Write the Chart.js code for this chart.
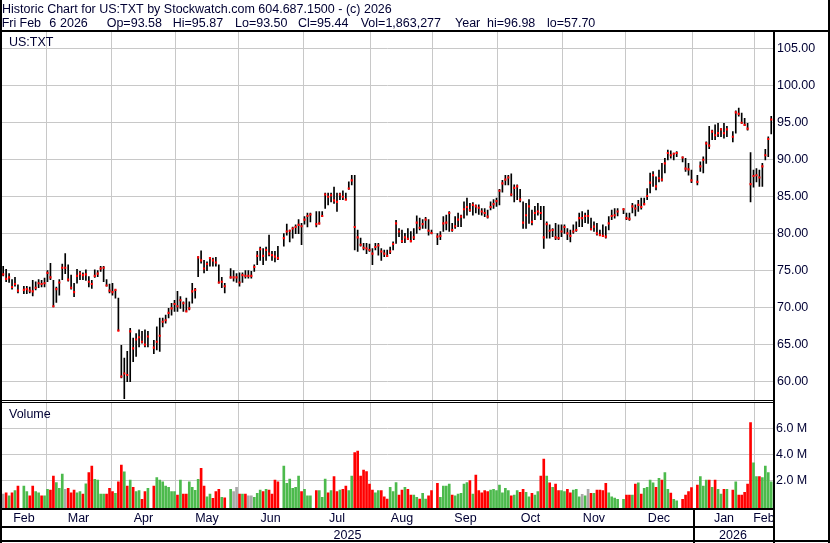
<!DOCTYPE html>
<html lang="en">
<head>
<meta charset="UTF-8">
<title>US:TXT Historic Chart</title>
<script src="https://cdn.jsdelivr.net/npm/chart.js"></script>
<style>
  html, body { margin: 0; padding: 0; background: #fff; }
</style>
</head>
<body>
<canvas id="chart" width="830" height="543"></canvas>
<script>
const titleLine = 'Historic Chart for US:TXT by Stockwatch.com 604.687.1500 - (c) 2026';
// second header line, as the fields appear left to right
const infoFields = ['Fri', 'Feb', '6', '2026', 'Op=93.58', 'Hi=95.87', 'Lo=93.50', 'Cl=95.44', 'Vol=1,863,277', 'Year', 'hi=96.98', 'lo=57.70'];
const symbol = 'US:TXT';

// one slot per weekday starting here (holidays are null)
const startDate = '2025-02-07';

const highs = [
  75.6, 75.2, 74.6, 73.8, 74.1, 73.1, null, 72.9, 72.9, 72.8,
  73.7, 73.5, 73.8, 73.7, 74.0, 75.0, 76.0, 73.7, 72.8, 73.8,
  75.9, 77.3, 75.8, 74.4, 73.3, 75.2, 74.9, 74.7, 75.1, 74.2,
  73.7, 75.1, 75.0, 75.6, 75.6, 73.8, 73.2, 73.3, 72.4, 71.3,
  64.9, 63.2, 64.1, 67.2, 65.9, 66.5, 67.0, 66.8, 67.0, 66.8,
  null, 65.6, 67.4, 68.6, 68.6, 69.0, 69.9, 70.6, 71.0, 72.2,
  71.5, 70.8, 71.3, 70.8, 73.3, 72.6, 76.9, 77.7, 76.4, 76.2,
  76.8, 76.7, 76.8, 75.8, 74.1, 73.3, null, 75.3, 75.0, 74.6,
  74.7, 74.7, 75.0, 75.0, 74.9, 75.8, 77.6, 78.2, 78.0, 78.2,
  79.8, 77.6, 77.6, 78.3, null, 80.0, 81.3, 80.5, 80.9, 81.2,
  81.9, 81.4, 82.3, 82.8, 82.8, null, 83.0, 83.0, 83.0, 85.5,
  85.5, 85.5, 86.3, 85.5, 85.5, 85.8, 85.5, 87.0, 87.9, 87.9,
  80.5, 79.4, 78.7, 78.7, 78.6, 78.0, 78.7, 78.7, 78.0, 77.8,
  77.8, 78.2, 78.9, 81.8, 80.7, 80.5, 80.05, 80.7, 80.3, 80.7,
  82.4, 82.1, 81.9, 82.2, 81.9, 80.5, null, 80.0, 80.3, 82.3,
  82.5, 83.0, 81.4, 82.3, 82.8, 82.5, 84.3, 84.8, 84.1, 84.2,
  83.9, 83.9, 83.4, 83.4, 83.2, 84.3, 84.6, 84.8, 86.0, 87.2,
  87.9, 87.9, 88.1, 86.6, 86.6, 86.0, 84.3, 84.1, 84.6, 83.2,
  83.7, 84.1, 83.7, 83.7, 81.6, 81.2, 80.7, 81.4, 81.2, 81.2,
  81.2, 80.7, 80.5, 81.2, 81.6, 82.8, 82.98, 82.8, 83.2, 82.1,
  81.6, 81.4, 80.5, 81.2, 80.96, 82.3, 83.2, 83.4, 83.4, null,
  83.4, 82.8, 82.8, 84.1, 83.9, 84.5, 84.8, 84.8, 86.1, 88.2,
  88.4, 87.7, 88.6, 89.5, 90.2, 91.3, 91.2, 90.9, 91.1, null,
  90.4, 90.2, 89.5, 88.6, null, 87.9, 89.7, 90.4, 92.4, 94.5,
  94.0, 94.7, 94.9, 94.2, 94.9, 94.5, null, 93.8, 96.6, 96.98,
  96.3, 95.6, 94.9, 90.95, 88.6, 88.8, 88.6, 89.5, 91.4, 93.1, 95.87
];

const lows = [
  74.3, 73.5, 73.4, 72.5, 72.9, 72.0, null, 71.9, 71.9, 72.0,
  71.6, 72.4, 72.7, 72.8, 72.8, 73.5, 73.8, 70.1, 70.7, 71.7,
  73.8, 74.6, 73.6, 72.5, 71.5, 73.3, 73.8, 73.8, 73.7, 72.8,
  72.6, 74.1, 74.2, 74.9, 73.5, 72.9, 72.0, 71.7, 71.3, 66.9,
  60.5, 57.7, 60.0, 60.0, 62.7, 63.4, 64.7, 65.2, 64.7, 64.7,
  null, 63.8, 64.3, 64.1, 67.4, 67.9, 68.6, 69.0, 69.5, 69.5,
  69.9, 69.5, 69.5, 69.7, 70.6, 71.3, 74.2, 76.0, 74.7, 75.0,
  75.6, 75.6, 75.6, 73.3, 72.7, 72.0, null, 74.0, 73.6, 73.4,
  72.9, 73.4, 74.0, 74.0, 74.0, 74.9, 75.8, 76.4, 75.8, 76.4,
  77.0, 76.4, 76.2, 76.5, null, 78.3, 79.8, 78.9, 79.4, 80.0,
  80.0, 78.5, 81.3, 80.9, 81.6, null, 80.9, 81.3, 82.3, 83.4,
  83.9, 84.3, 84.1, 83.0, 84.6, 84.6, 84.6, 86.0, 86.6, 77.8,
  77.6, 78.3, 77.8, 77.3, 77.6, 75.8, 77.8, 77.1, 76.4, 76.9,
  76.9, 77.3, 77.8, 78.7, 79.6, 78.8, 78.8, 79.2, 78.9, 79.2,
  80.05, 80.5, 80.7, 80.7, 79.8, 79.96, null, 78.5, 79.2, 80.3,
  80.5, 80.3, 80.3, 80.7, 80.96, 80.96, 82.1, 82.5, 83.0, 82.5,
  82.8, 82.6, 82.5, 82.3, 82.1, 83.2, 83.4, 83.7, 83.9, 85.6,
  86.6, 86.6, 85.1, 84.3, 84.6, 84.3, 80.7, 80.7, 81.4, 81.2,
  81.9, 82.5, 81.9, 78.0, 79.4, 79.4, 79.6, 79.2, 79.2, 79.6,
  80.05, 79.2, 78.9, 80.05, 80.3, 80.96, 80.96, 81.5, 81.4, 80.5,
  80.3, 79.8, 79.8, 79.6, 79.4, 80.5, 81.9, 82.1, 82.4, null,
  82.7, 81.9, 81.8, 82.8, 82.4, 83.0, 83.3, 83.9, 84.6, 85.5,
  86.4, 85.9, 87.0, 87.1, 88.2, 89.96, 90.2, 89.96, 90.4, null,
  89.7, 88.4, 87.9, 86.9, null, 86.6, 88.4, 88.2, 89.5, 91.5,
  92.7, 92.7, 93.1, 93.1, 92.9, 93.1, null, 92.4, 93.6, 95.9,
  94.9, 94.6, 94.0, 84.3, 86.3, 87.0, 86.4, 86.4, 89.96, 90.4, 93.5
];

const closes = [
  74.5, 73.9, 74.1, 72.8, 73.2, 72.3, null, 72.4, 72.5, 72.3,
  72.2, 72.7, 73.3, 73.2, 73.3, 74.7, 74.1, 70.2, 72.5, 73.4,
  75.4, 75.4, 73.8, 72.7, 72.1, 74.3, 74.6, 74.4, 74.5, 73.5,
  73.2, 74.3, 74.6, 75.3, 75.4, 73.0, 72.3, 72.1, 72.4, 66.9,
  60.7, 61.1, 60.9, 66.8, 64.5, 65.7, 66.0, 65.4, 65.0, 66.1,
  null, 64.6, 65.4, 66.2, 68.1, 68.3, 69.3, 69.9, 70.5, 70.2,
  71.0, 70.6, 69.5, 69.9, 72.2, 72.4, 76.8, 76.4, 75.3, 75.9,
  76.7, 76.4, 76.1, 73.4, 73.5, 72.9, null, 74.1, 74.1, 74.1,
  73.4, 74.4, 74.3, 74.3, 74.3, 75.5, 77.0, 77.9, 77.0, 77.8,
  77.3, 77.1, 76.9, 76.7, null, 79.4, 80.3, 80.4, 80.7, 80.9,
  81.2, 81.0, 81.9, 82.4, 82.6, null, 81.3, 81.4, 82.4, 85.3,
  85.0, 85.2, 84.5, 84.3, 85.3, 85.0, 84.6, 86.1, 87.2, 80.9,
  79.5, 78.5, 78.1, 78.0, 77.8, 77.3, 78.2, 78.4, 77.6, 77.3,
  77.0, 77.6, 78.6, 81.4, 80.3, 79.0, 79.5, 79.3, 79.0, 79.5,
  81.5, 80.8, 81.3, 81.9, 80.4, 80.1, null, 79.6, 79.7, 81.4,
  81.5, 82.8, 80.5, 81.0, 81.9, 82.3, 83.3, 83.6, 83.2, 83.9,
  83.7, 83.5, 83.0, 82.8, 82.3, 83.6, 84.0, 84.4, 85.8, 86.8,
  87.3, 87.6, 85.3, 86.2, 86.4, 84.6, 81.5, 82.5, 83.7, 81.6,
  82.8, 83.0, 82.8, 79.5, 81.3, 80.4, 80.5, 79.5, 79.4, 80.3,
  80.9, 80.05, 79.7, 80.3, 80.5, 82.1, 82.1, 82.4, 82.4, 80.6,
  80.96, 80.05, 79.8, 79.7, 79.6, 81.4, 82.4, 82.5, 83.0, null,
  83.3, 82.1, 82.0, 83.7, 83.4, 83.9, 83.6, 84.0, 85.1, 86.9,
  87.9, 86.4, 87.5, 87.3, 89.5, 90.9, 90.6, 90.8, 90.9, null,
  90.3, 88.8, 88.7, 87.2, null, 87.0, 89.1, 90.0, 92.2, 91.9,
  93.8, 93.3, 93.6, 94.1, 93.6, 94.1, null, 93.1, 96.4, 96.2,
  95.0, 94.7, 94.2, 86.7, 87.8, 87.9, 87.6, 89.1, 90.6, 92.8, 95.44
];

// volume in millions
const volumes = [
  0.92, 1.02, 0.77, 1.02, 1.18, 1.54, null, 1.54, 1.10, 0.77,
  1.54, 1.10, 1.02, 0.77, 0.77, 1.28, 1.22, 2.31, 1.80, 1.36,
  2.46, 1.28, 1.36, 1.02, 1.22, 1.02, 1.10, 0.92, 1.70, 2.57,
  3.08, 2.05, 2.00, 0.92, 0.92, 0.92, 1.36, 1.10, 0.97, 1.87,
  3.16, 2.64, 1.54, 2.00, 1.43, 1.10, 1.18, 0.51, 1.10, 1.36,
  null, 1.54, 2.20, 2.00, 1.87, 1.54, 1.43, 1.10, 1.10, 0.84,
  2.00, 0.92, 0.92, 1.87, 1.43, 1.20, 2.05, 2.90, 1.54, 0.71,
  0.92, 0.58, 1.10, 1.28, 0.66, 0.63, null, 1.28, 1.10, 1.44,
  0.92, 0.92, 0.92, 0.77, 0.77, 0.66, 0.97, 1.23, 1.10, 1.28,
  1.23, 0.92, 2.00, 1.87, null, 3.08, 1.75, 2.08, 1.36, 1.44,
  2.31, 1.10, 1.28, 0.77, 0.77, null, 1.18, 1.18, 0.66, 2.08,
  1.02, 1.18, 2.26, 1.10, 1.23, 1.28, 1.54, 1.18, 2.31, 4.12,
  4.25, 2.31, 2.78, 2.65, 1.69, 1.23, 1.02, 1.18, 1.18, 0.71,
  0.53, 1.44, 1.10, 1.80, 0.84, 1.23, 1.44, 1.28, 0.84, 0.84,
  0.66, 0.53, 0.97, 0.53, 0.77, 1.18, null, 1.75, 0.66, 1.54,
  1.54, 1.69, 0.84, 0.77, 0.92, 0.97, 1.69, 1.80, 1.95, 0.92,
  2.39, 1.18, 1.02, 1.18, 1.10, 1.23, 1.28, 1.18, 1.62, 1.02,
  1.36, 1.18, 0.77, 0.84, 1.18, 1.05, 1.28, 1.05, 0.71, 0.97,
  0.84, 1.10, 2.31, 3.62, 2.31, 1.79, 1.44, 1.69, 1.18, 1.18,
  1.10, 1.28, 1.02, 1.23, 1.28, 0.71, 0.89, 0.77, 1.28, 0.97,
  0.97, 1.23, 1.23, 1.18, 1.74, 1.02, 0.71, 0.60, 0.50, null,
  0.50, 0.84, 0.84, 0.84, 1.69, 1.79, 0.92, 1.36, 1.44, 2.00,
  1.79, 1.44, 2.13, 2.00, 2.57, 1.28, 1.00, 0.50, 0.40, null,
  0.50, 0.84, 1.10, 1.41, null, 1.62, 2.26, 1.54, 2.00, 2.00,
  1.44, 2.00, 1.28, 0.92, 1.28, 1.28, null, 1.23, 1.87, 0.84,
  0.84, 1.05, 1.69, 6.44, 3.34, 2.26, 2.26, 2.20, 3.08, 2.57, 1.86
];

const monthLabels = ['Feb', 'Mar', 'Apr', 'May', 'Jun', 'Jul', 'Aug', 'Sep', 'Oct', 'Nov', 'Dec', 'Jan', 'Feb'];
const yearLabels = ['2025', '2026'];
const priceTicks = [60, 62.5, 65, 67.5, 70, 72.5, 75, 77.5, 80, 82.5, 85, 87.5, 90, 92.5, 95, 97.5, 100, 102.5, 105];
const volumeTicks = [2, 4, 6];

// ---- look ----
const FONT = '"Liberation Sans", Arial, sans-serif';
const TEXT = '#000033';
const GRID = '#c8c8c8';
const GREEN = '#4cba4c';
const RED = '#ff0000';
const GREY = '#a8a8a8';
// left edges of the header fields on line 2
const infoX = [1.7, 19.5, 49.3, 60, 106.7, 172.7, 235, 298, 360.7, 455, 487, 547];

// weekday calendar for the slots
const slots = highs.length;
const dates = [];
{
  const d = new Date(startDate + 'T00:00:00Z');
  while (dates.length < slots) {
    const wd = d.getUTCDay();
    if (wd !== 0 && wd !== 6) dates.push(new Date(d));
    d.setUTCDate(d.getUTCDate() + 1);
  }
}
const xMin = -0.4, xMax = slots - 0.4;

// month separators sit at the slot of the 1st (weekend -> previous friday)
const bounds = [];
let yearBound = null;
for (let i = 1; i < slots; i++) {
  if (dates[i].getUTCMonth() !== dates[i - 1].getUTCMonth()) {
    const first = Date.UTC(dates[i].getUTCFullYear(), dates[i].getUTCMonth(), 1);
    let j = i;
    while (j > 0 && dates[j].getTime() > first) j--;
    bounds.push(j - 0.5);
    if (dates[i].getUTCMonth() === 0) yearBound = j - 0.5;
  }
}
const edges = [xMin, ...bounds, xMax];
const monthCenters = edges.slice(0, -1).map((e, k) => (e + edges[k + 1]) / 2);
const yearCenters = [(xMin + yearBound) / 2, (yearBound + xMax) / 2];

// datasets
const hiLo = [], closePts = [], volPts = [], volColors = [];
let prevClose = null;
for (let i = 0; i < slots; i++) {
  if (highs[i] == null) continue;
  hiLo.push({ x: i, y: [lows[i], highs[i]] });
  closePts.push({ x: i, y: closes[i] });
  volPts.push({ x: i, y: volumes[i] });
  let c = GREY;
  if (prevClose != null) c = closes[i] > prevClose ? GREEN : (closes[i] < prevClose ? RED : GREY);
  volColors.push(c);
  prevClose = closes[i];
}

const volMin = -0.24, volMax = 8.08;

const framePlugin = {
  id: 'frame',
  beforeDraw(chart) {
    const ctx = chart.ctx;
    ctx.save();
    ctx.fillStyle = '#fff';
    ctx.fillRect(0, 0, chart.width, chart.height);
    ctx.restore();
  },
  afterDraw(chart) {
    const ctx = chart.ctx;
    const a = chart.chartArea;
    const W = chart.width, H = chart.height;
    const xs = chart.scales.x;
    ctx.save();
    ctx.fillStyle = '#000';
    ctx.fillRect(0, 0, 2, H);
    ctx.fillRect(W - 2, 0, 2, H);
    ctx.fillRect(0, H - 3, W, 2);
    ctx.fillRect(0, 30, W, 2);
    ctx.fillRect(a.right, a.top, 2, H - a.top);
    // panel split
    ctx.fillStyle = '#fff';
    ctx.fillRect(2, 401, a.right - 2, 1);
    ctx.fillStyle = '#000';
    ctx.fillRect(0, 400, a.right, 1);
    ctx.fillRect(0, 402, a.right, 1);
    // label rows
    ctx.fillRect(0, a.bottom - 1, a.right, 2);
    ctx.fillRect(0, 526, a.right, 2);
    const yb = Math.round(xs.getPixelForValue(yearBound));
    ctx.fillRect(yb, a.bottom, 2, H - a.bottom);

    ctx.fillStyle = TEXT;
    ctx.font = '12.5px ' + FONT;
    ctx.textBaseline = 'alphabetic';
    ctx.textAlign = 'left';
    ctx.fillText(titleLine, 2, 13);
    infoFields.forEach((t, k) => ctx.fillText(t, infoX[k], 27));
    ctx.fillText(symbol, 9, 46);
    ctx.fillText('Volume', 9, 418);
    ctx.restore();
  }
};

const tickFont = { family: FONT, size: 12.5 };

new Chart(document.getElementById('chart'), {
  type: 'bar',
  data: {
    datasets: [
      {
        type: 'line',
        data: closePts,
        xAxisID: 'x',
        yAxisID: 'y',
        showLine: false,
        pointStyle: 'rect',
        pointRadius: 1.5,
        pointHoverRadius: 1.5,
        pointBackgroundColor: RED,
        pointBorderWidth: 0
      },
      {
        type: 'bar',
        data: hiLo,
        xAxisID: 'x',
        yAxisID: 'y',
        backgroundColor: '#000',
        barThickness: 1,
        grouped: false
      },
      {
        type: 'bar',
        data: volPts,
        xAxisID: 'x',
        yAxisID: 'yv',
        backgroundColor: volColors,
        barThickness: 2,
        base: volMin,
        grouped: false
      }
    ]
  },
  options: {
    responsive: false,
    animation: false,
    devicePixelRatio: 1,
    layout: { padding: { left: 2, top: 32, right: 0, bottom: 0 } },
    plugins: { legend: { display: false }, tooltip: { enabled: false } },
    events: [],
    scales: {
      x: {
        type: 'linear', position: 'bottom', min: xMin, max: xMax, offset: false,
        grid: { color: GRID, drawTicks: false, offset: false },
        border: { display: false },
        ticks: { display: false },
        afterBuildTicks: s => { s.ticks = bounds.map(v => ({ value: v })); },
        afterFit: s => { s.height = 0; }
      },
      xm: {
        type: 'linear', position: 'bottom', min: xMin, max: xMax, offset: false,
        grid: { display: false, drawTicks: false },
        border: { display: false },
        ticks: { font: tickFont, color: TEXT, padding: 2, autoSkip: false, maxRotation: 0,
                 callback: (v, i) => monthLabels[i] },
        afterBuildTicks: s => { s.ticks = monthCenters.map(v => ({ value: v })); },
        afterFit: s => { s.height = 17; }
      },
      xy: {
        type: 'linear', position: 'bottom', min: xMin, max: xMax, offset: false,
        grid: { display: false, drawTicks: false },
        border: { display: false },
        ticks: { font: tickFont, color: TEXT, padding: 2, autoSkip: false, maxRotation: 0,
                 callback: (v, i) => yearLabels[i] },
        afterBuildTicks: s => { s.ticks = yearCenters.map(v => ({ value: v })); },
        afterFit: s => { s.height = 17; }
      },
      y: {
        type: 'linear', position: 'right', stack: 'panels', stackWeight: 369.5,
        min: 57.32, max: 107.26,
        grid: { color: GRID, drawTicks: false },
        border: { display: false },
        ticks: { font: tickFont, color: TEXT, padding: 4, callback: v => v.toFixed(2) },
        afterBuildTicks: s => { s.ticks = priceTicks.map(v => ({ value: v })); },
        afterFit: s => { s.width = 57; }
      },
      yv: {
        type: 'linear', position: 'right', stack: 'panels', stackWeight: 107.5,
        min: volMin, max: volMax,
        grid: { color: GRID, drawTicks: false },
        border: { display: false },
        ticks: { font: tickFont, color: TEXT, padding: 3, callback: v => v.toFixed(1) + ' M' },
        afterBuildTicks: s => { s.ticks = volumeTicks.map(v => ({ value: v })); },
        afterFit: s => { s.width = 57; }
      }
    }
  },
  plugins: [framePlugin]
});
</script>
</body>
</html>
